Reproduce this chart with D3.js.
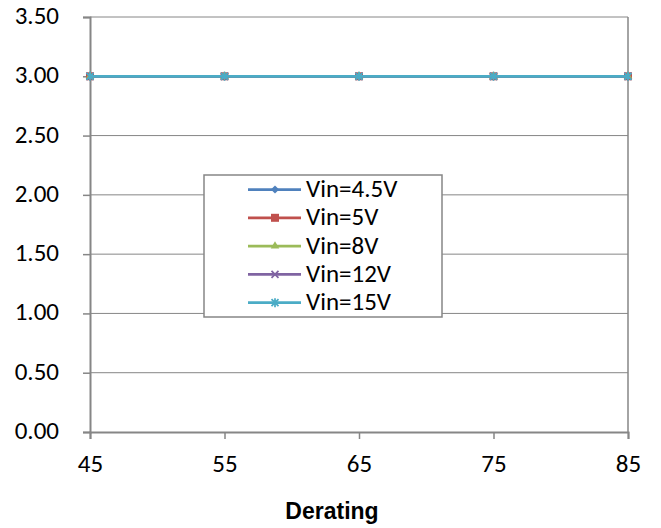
<!DOCTYPE html>
<html>
<head>
<meta charset="utf-8">
<script src="https://cdn.jsdelivr.net/npm/d3@7"></script>
<style>
  body { margin: 0; background: #fff; }
  text { font-family: Carlito, "DejaVu Sans", sans-serif; fill: #000; }
</style>
</head>
<body>
<div id="chart"></div>
<script>
// Chart data
const derating = [45, 55, 65, 75, 85];
const seriesNames = ["Vin=4.5V", "Vin=5V", "Vin=8V", "Vin=12V", "Vin=15V"];
const vin45 = [3.00, 3.00, 3.00, 3.00, 3.00];
const vin5 = [3.00, 3.00, 3.00, 3.00, 3.00];
const vin8 = [3.00, 3.00, 3.00, 3.00, 3.00];
const vin12 = [3.00, 3.00, 3.00, 3.00, 3.00];
const vin15 = [3.00, 3.00, 3.00, 3.00, 3.00];
const yTicks = [0, 0.5, 1.0, 1.5, 2.0, 2.5, 3.0, 3.5];

const colors = ["#4F81BD", "#C0504D", "#9BBB59", "#8064A2", "#4BACC6"];
const series = [vin45, vin5, vin8, vin12, vin15].map((vals, i) => ({
  name: seriesNames[i],
  color: colors[i],
  values: vals.map((v, j) => ({ x: derating[j], y: v }))
}));

const width = 661, height = 528;
const margin = { top: 17, right: 33, bottom: 96, left: 90 };
const labelFont = "Carlito, 'DejaVu Sans', sans-serif";

const svg = d3.select("#chart").append("svg")
  .attr("width", width)
  .attr("height", height);

const x = d3.scaleLinear().domain([45, 85]).range([margin.left, width - margin.right]);
const y = d3.scaleLinear().domain([0, 3.5]).range([height - margin.bottom, margin.top]);

const grid = "#868686";

// horizontal gridlines
svg.append("g")
  .selectAll("line")
  .data(yTicks.slice(1))
  .join("line")
  .attr("x1", x(45)).attr("x2", x(85))
  .attr("y1", d => y(d)).attr("y2", d => y(d))
  .attr("stroke", grid)
  .attr("stroke-width", 1);

// right frame
svg.append("line")
  .attr("x1", x(85)).attr("x2", x(85))
  .attr("y1", y(0)).attr("y2", y(3.5))
  .attr("stroke", grid).attr("stroke-width", 1.5);

// y axis
const yAxis = svg.append("g")
  .attr("transform", `translate(${x(45)},0)`)
  .call(d3.axisLeft(y).tickValues(yTicks).tickFormat(d3.format(".2f")).tickSize(7).tickPadding(24));
yAxis.select(".domain").attr("stroke", grid).attr("stroke-width", 2);
yAxis.selectAll(".tick line").attr("stroke", grid).attr("stroke-width", 1.5);
yAxis.selectAll("text").attr("font-size", 25).attr("font-family", labelFont).attr("dy", "0.26em");

// x axis
const xAxis = svg.append("g")
  .attr("transform", `translate(0,${y(0)})`)
  .call(d3.axisBottom(x).tickValues(derating).tickSize(7).tickPadding(15));
xAxis.select(".domain").attr("stroke", grid).attr("stroke-width", 2);
xAxis.selectAll(".tick line").attr("stroke", grid).attr("stroke-width", 1.5);
xAxis.selectAll("text").attr("font-size", 25).attr("font-family", labelFont);

// x axis title
svg.append("text")
  .attr("x", 332)
  .attr("y", 519)
  .attr("text-anchor", "middle")
  .attr("font-size", 23)
  .attr("font-weight", "bold")
  .style("font-family", "'Liberation Sans', Arial, sans-serif")
  .text("Derating");

// markers: diamond, square, triangle, x, star
function drawMarker(g, i, cx, cy, color) {
  if (i === 3) {
    g.append("path")
      .attr("d", `M${cx - 3.5},${cy - 3.5}L${cx + 3.5},${cy + 3.5}M${cx - 3.5},${cy + 3.5}L${cx + 3.5},${cy - 3.5}`)
      .attr("stroke", color).attr("stroke-width", 1.75).attr("fill", "none");
  } else if (i === 4) {
    g.append("path")
      .attr("d", `M${cx - 3.5},${cy - 3.5}L${cx + 3.5},${cy + 3.5}M${cx - 3.5},${cy + 3.5}L${cx + 3.5},${cy - 3.5}M${cx},${cy - 4.5}L${cx},${cy + 4.5}`)
      .attr("stroke", color).attr("stroke-width", 1.75).attr("fill", "none");
  } else if (i === 0) {
    g.append("path")
      .attr("d", d3.symbol().type(d3.symbolSquare).size(34)())
      .attr("transform", `translate(${cx},${cy}) rotate(45)`)
      .attr("fill", color);
  } else if (i === 1) {
    g.append("path")
      .attr("d", d3.symbol().type(d3.symbolSquare).size(64)())
      .attr("transform", `translate(${cx},${cy})`)
      .attr("fill", color);
  } else {
    g.append("path")
      .attr("d", d3.symbol().type(d3.symbolTriangle).size(32)())
      .attr("transform", `translate(${cx},${cy})`)
      .attr("fill", color);
  }
}

const line = d3.line().x(d => x(d.x)).y(d => y(d.y));

series.forEach((s, i) => {
  const g = svg.append("g");
  g.append("path")
    .datum(s.values)
    .attr("d", line)
    .attr("fill", "none")
    .attr("stroke", s.color)
    .attr("stroke-width", 2.75);
  s.values.forEach(d => drawMarker(g, i, x(d.x), y(d.y), s.color));
});

// legend
const legend = svg.append("g").attr("transform", "translate(204,175)");
legend.append("rect")
  .attr("width", 238).attr("height", 142)
  .attr("fill", "#fff")
  .attr("stroke", grid).attr("stroke-width", 1.5);

series.forEach((s, i) => {
  const ly = 14.5 + i * 28.3;
  const row = legend.append("g");
  row.append("line")
    .attr("x1", 44).attr("x2", 97)
    .attr("y1", ly).attr("y2", ly)
    .attr("stroke", s.color).attr("stroke-width", 2.75);
  drawMarker(row, i, 71, ly, s.color);
  row.append("text")
    .attr("x", 102).attr("y", ly)
    .attr("dy", "0.3em")
    .attr("font-size", 25)
    .text(s.name);
});
</script>
</body>
</html>
